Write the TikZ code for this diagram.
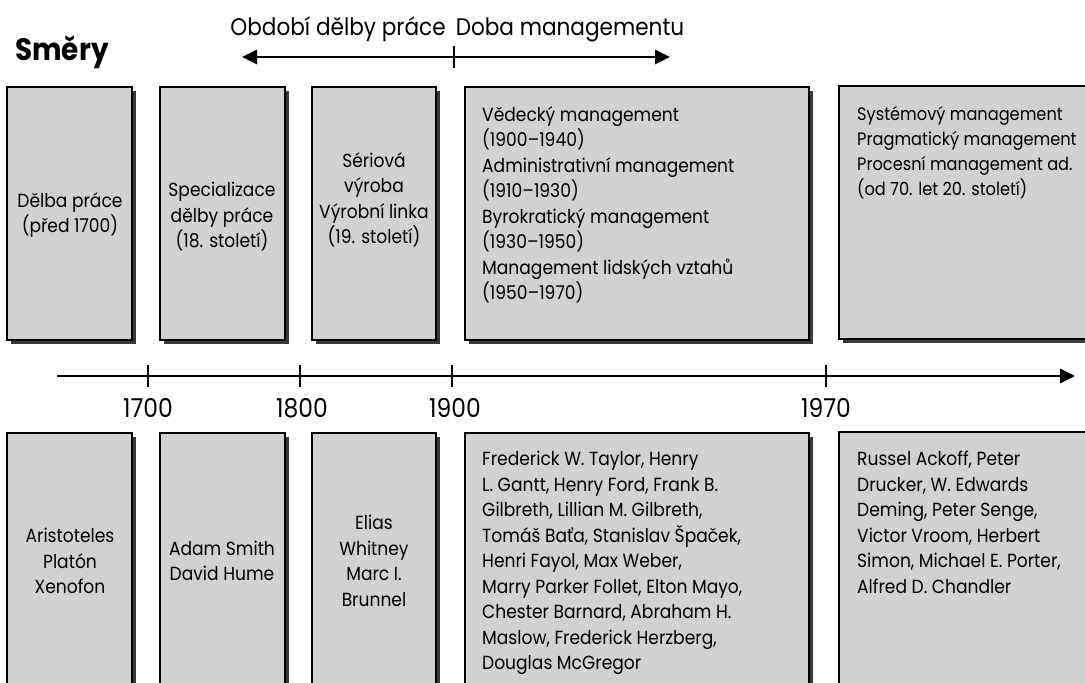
\documentclass[tikz,border=0pt]{standalone}
\usepackage{fontspec}
\setmainfont[FakeStretch=0.9]{Poppins}
\usetikzlibrary{arrows.meta,shadows}
\definecolor{boxgray}{HTML}{D1D1D1}
\definecolor{shadowgray}{HTML}{3A3A3A}
\begin{document}
\begin{tikzpicture}[x=1pt,y=-1pt,
  panel/.style={draw=black,line width=1.8pt,fill=boxgray,inner sep=0pt,
    drop shadow={shadow xshift=4pt,shadow yshift=-4pt,fill=shadowgray,opacity=1}},
  boxtext/.style={font=\fontsize{19}{25.5}\selectfont,inner sep=0pt},
  ctext/.style={boxtext,align=center},
  ltext/.style={boxtext,align=left,anchor=north west},
  head/.style={font=\fontsize{24}{28}\selectfont,inner sep=0pt},
  year/.style={font=\fontsize{26}{28}\selectfont,inner sep=0pt,anchor=base},
  axis/.style={line width=2.6pt},
  tip/.style={-{Triangle[length=15pt,width=14pt]}}]
\useasboundingbox (0,0) rectangle (1085,683);
\clip (0,0) rectangle (1085,683);
% title and headers
\node[font=\bfseries\fontsize{31}{32}\selectfont,anchor=base west,inner sep=0pt] (smery) at (15,60) {Směry};
\node[head,anchor=base] (obd) at (338,35) {Období dělby práce};
\node[head,anchor=base] (doba) at (570,35) {Doba managementu};
\coordinate (mid) at (454,57);
\coordinate (ltip) at (242,57);
\coordinate (rtip) at (670,57);
\draw[axis,tip] (mid) -- (ltip);
\draw[axis,tip] (mid) -- (rtip);
\draw[axis] ([yshift=11pt]mid) -- ([yshift=-11pt]mid);
% top panels
\node[panel,minimum width=125pt,minimum height=253pt] (p1) at (69.5,213.5) {};
\node[panel,minimum width=125pt,minimum height=253pt] (p2) at (222.5,213.5) {};
\node[panel,minimum width=124pt,minimum height=253pt] (p3) at (374,213.5) {};
\node[panel,minimum width=344pt,minimum height=253pt] (p4) at (637,213.5) {};
\node[panel,minimum width=260pt,minimum height=253pt] (p5) at (969,212.5) {};
\node[ctext] (t1) at (70,215) {Dělba práce\\(před 1700)};
\node[ctext] (t2) at (222,217) {Specializace\\dělby práce\\(18. století)};
\node[ctext] (t3) at (374,200) {Sériová\\výroba\\Výrobní linka\\(19. století)};
\node[ltext] (t4) at (482,106) {Vědecký management\\(1900–1940)\\Administrativní management\\(1910–1930)\\Byrokratický management\\(1930–1950)\\Management lidských vztahů\\(1950–1970)};
\node[ltext,font=\fontsize{18}{25}\selectfont] (t5) at (857,106) {Systémový management\\Pragmatický management\\Procesní management ad.\\(od 70. let 20. století)};
% timeline
\coordinate (tl0) at (57,376);
\coordinate (tlend) at (1075,376);
\coordinate (c1700) at (148,376);
\coordinate (c1800) at (300,376);
\coordinate (c1900) at (452,376);
\coordinate (c1970) at (826,376);
\draw[axis,tip] (tl0) -- (tlend);
\foreach \c in {c1700,c1800,c1900,c1970}
  \draw[axis] ([yshift=11pt]\c) -- ([yshift=-11pt]\c);
\node[year] (y1700) at (148,417) {1700};
\node[year] (y1800) at (302,417) {1800};
\node[year] (y1900) at (455,417) {1900};
\node[year] (y1970) at (826,417) {1970};
% bottom panels
\node[panel,minimum width=125pt,minimum height=267pt] (q1) at (69.5,566.5) {};
\node[panel,minimum width=125pt,minimum height=267pt] (q2) at (222.5,566.5) {};
\node[panel,minimum width=124pt,minimum height=267pt] (q3) at (374,566.5) {};
\node[panel,minimum width=344pt,minimum height=267pt] (q4) at (637,566.5) {};
\node[panel,minimum width=260pt,minimum height=268pt] (q5) at (969,566) {};
\node[ctext] (b1) at (70,561) {Aristoteles\\Platón\\Xenofon};
\node[ctext] (b2) at (222,561) {Adam Smith\\David Hume};
\node[ctext] (b3) at (374,561) {Elias\\Whitney\\Marc I.\\Brunnel};
\node[ltext] (b4) at (482,451) {Frederick W. Taylor, Henry\\L. Gantt, Henry Ford, Frank B.\\Gilbreth, Lillian M. Gilbreth,\\Tomáš Baťa, Stanislav Špaček,\\Henri Fayol, Max Weber,\\Marry Parker Follet, Elton Mayo,\\Chester Barnard, Abraham H.\\Maslow, Frederick Herzberg,\\Douglas McGregor};
\node[ltext] (b5) at (857,451) {Russel Ackoff, Peter\\Drucker, W. Edwards\\Deming, Peter Senge,\\Victor Vroom, Herbert\\Simon, Michael E. Porter,\\Alfred D. Chandler};
\end{tikzpicture}
\end{document}
